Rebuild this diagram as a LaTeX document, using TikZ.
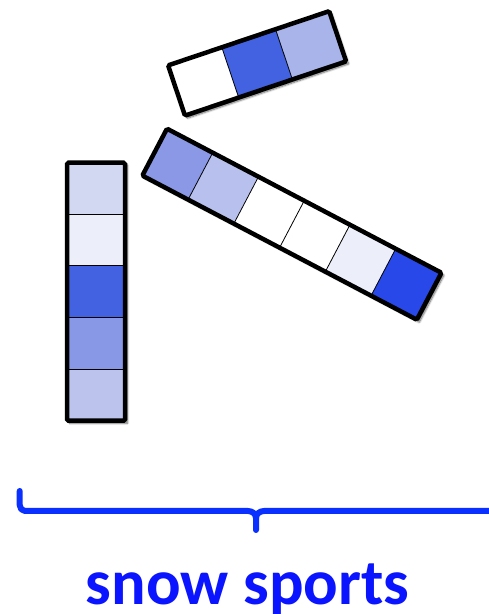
\documentclass[tikz,border=0pt]{standalone}
\usepackage{fontspec}
\setmainfont{Carlito}
\usetikzlibrary{shadows.blur}
\definecolor{cA}{HTML}{D3D8F2}
\definecolor{cB}{HTML}{ECEEFA}
\definecolor{cC}{HTML}{4262E2}
\definecolor{cD}{HTML}{8898E6}
\definecolor{cE}{HTML}{BCC4EE}
\definecolor{cF}{HTML}{A8B4EA}
\definecolor{cG}{HTML}{8A98E6}
\definecolor{cH}{HTML}{B8C0EE}
\definecolor{cI}{HTML}{2848EA}
\definecolor{braceblue}{HTML}{0A30FF}
\definecolor{textblue}{HTML}{0A14FF}
\tikzset{
  barframe/.style={line width=4.5pt, draw=black, rounded corners=1.5pt},
  barshadow/.style={fill=white, blur shadow={shadow xshift=2.5pt, shadow yshift=-2.5pt, shadow blur steps=8, shadow opacity=60}},
  celldiv/.style={line width=0.8pt, draw=black},
  bracestyle/.style={line width=6pt, draw=braceblue, line cap=round, line join=round},
  labelstyle/.style={font=\fontsize{64.5}{66}\selectfont\bfseries, text=textblue, inner sep=0pt}
}
% #1 length, #2 width, #3 colour list
\newcommand{\cellbar}[3]{%
  \pgfmathsetmacro{\halfL}{#1/2}%
  \pgfmathsetmacro{\halfW}{#2/2}%
  \path[barshadow] (-\halfL,-\halfW) rectangle (\halfL,\halfW);
  \foreach \c [count=\i] in {#3} {\xdef\ncells{\i}}%
  \pgfmathsetmacro{\cl}{#1/\ncells}%
  \foreach \c [count=\i] in {#3} {
    \pgfmathsetmacro{\xa}{-\halfL+(\i-1)*\cl}
    \pgfmathsetmacro{\xb}{-\halfL+\i*\cl}
    \fill[\c] (\xa,-\halfW) rectangle (\xb,\halfW);
    \ifnum\i>1 \draw[celldiv] (\xa,-\halfW) -- (\xa,\halfW); \fi
  }
  \draw[barframe] (-\halfL,-\halfW) rectangle (\halfL,\halfW);
}
\begin{document}
\begin{tikzpicture}[x=1pt,y=1pt]
\useasboundingbox (0,0) rectangle (488,614);
% vertical bar
\begin{scope}[shift={(96,322.3)},rotate=-90]
  \cellbar{258}{58}{cA,cB,cC,cD,cE}
\end{scope}
% top small bar
\begin{scope}[shift={(257.1,550.6)},rotate=18.6]
  \cellbar{170}{53}{white,cC,cF}
\end{scope}
% long bar
\begin{scope}[shift={(291.9,389.8)},rotate=-27.7]
  \cellbar{310}{53}{cG,cH,white,white,cB,cI}
\end{scope}
% brace
\coordinate (bl) at (19.7,123);
\coordinate (bm) at (256,84);
\coordinate (br) at (494,103);
\draw[bracestyle] (bl) -- (19.7,109) to[out=-90,in=180] (25,103) -- (248,103) to[out=0,in=90] (256,96) -- (bm);
\draw[bracestyle] (256,96) to[out=90,in=180] (264,103) -- (br);
\node[labelstyle, anchor=base] (lbl) at (247.5,9.5) {snow sports};
\end{tikzpicture}
\end{document}
